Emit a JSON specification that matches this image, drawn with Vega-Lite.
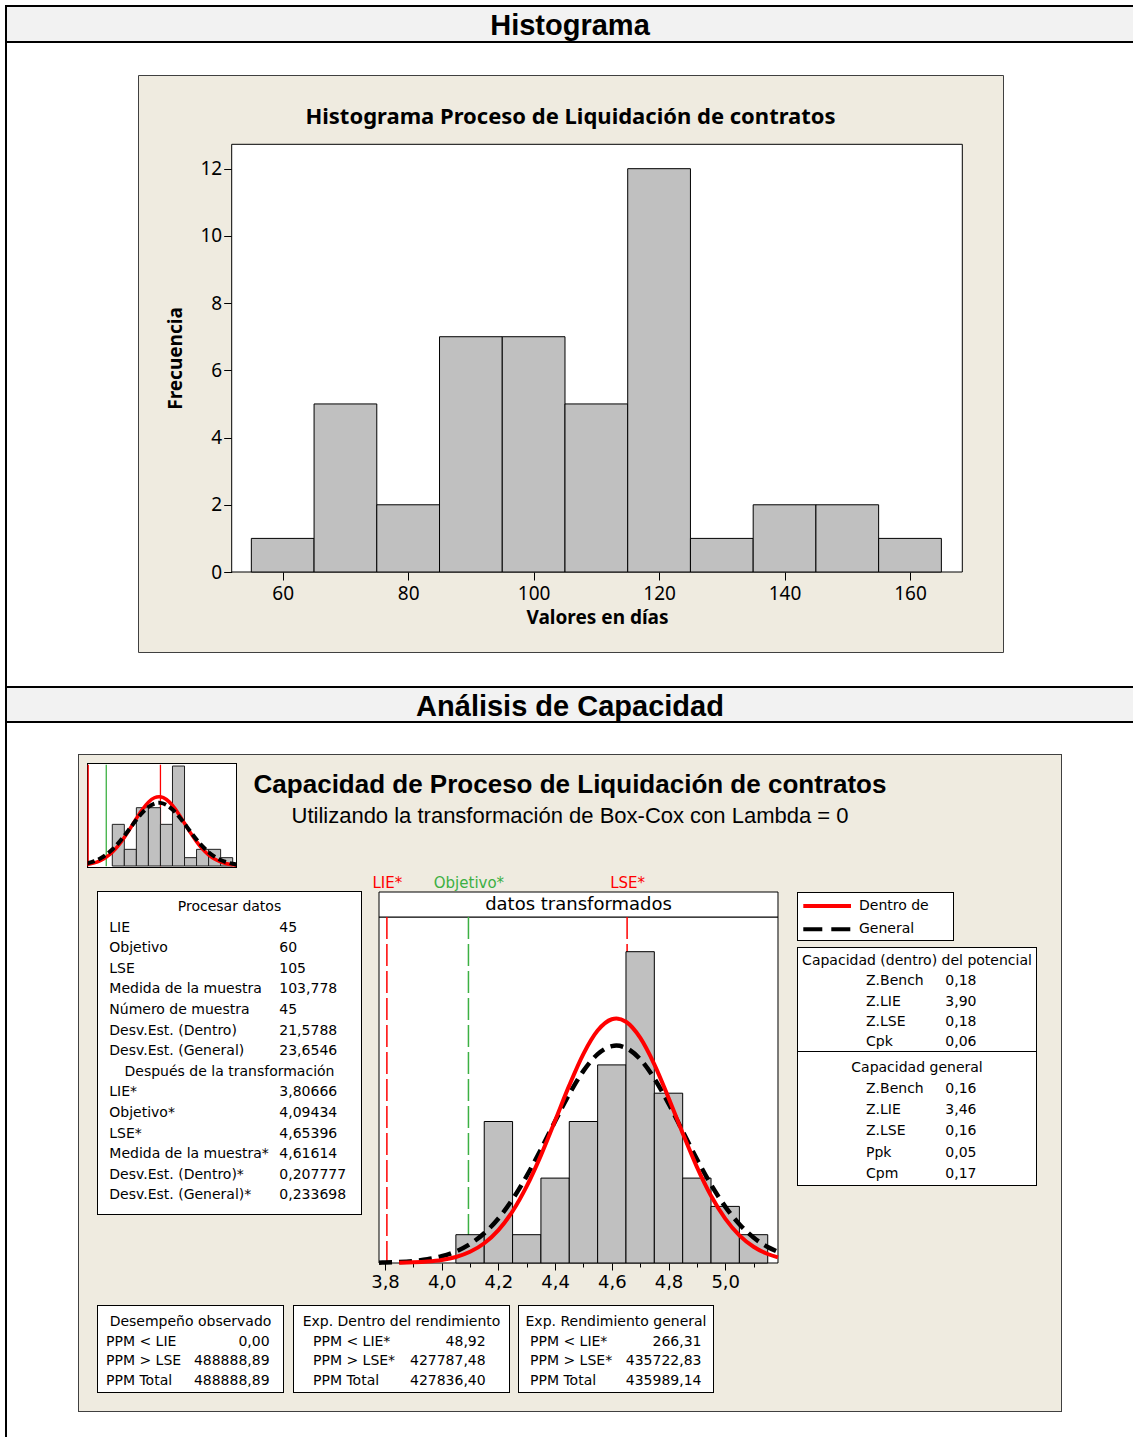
{
"$schema":"https://vega.github.io/schema/vega-lite/v6.json",
"background":"white",
"padding":{"left":5,"top":5,"right":0,"bottom":0},
"spacing":0,
"config":{"view":{"stroke":null},"axis":{"grid":false,"domainColor":"black","tickColor":"black","labelColor":"black","titleColor":"black"},"font":"DejaVu Sans"},
"datasets":{
"hist_dias":[{"inicio":55,"fin":65,"frecuencia":1},{"inicio":65,"fin":75,"frecuencia":5},{"inicio":75,"fin":85,"frecuencia":2},{"inicio":85,"fin":95,"frecuencia":7},{"inicio":95,"fin":105,"frecuencia":7},{"inicio":105,"fin":115,"frecuencia":5},{"inicio":115,"fin":125,"frecuencia":12},{"inicio":125,"fin":135,"frecuencia":1},{"inicio":135,"fin":145,"frecuencia":2},{"inicio":145,"fin":155,"frecuencia":2},{"inicio":155,"fin":165,"frecuencia":1}],
"hist_mini":[{"inicio":65,"fin":75,"frecuencia":5},{"inicio":75,"fin":85,"frecuencia":2},{"inicio":85,"fin":95,"frecuencia":7},{"inicio":95,"fin":105,"frecuencia":7},{"inicio":105,"fin":115,"frecuencia":5},{"inicio":115,"fin":125,"frecuencia":12},{"inicio":125,"fin":135,"frecuencia":1},{"inicio":135,"fin":145,"frecuencia":2},{"inicio":145,"fin":155,"frecuencia":2},{"inicio":155,"fin":165,"frecuencia":1}],
"hist_trans":[{"inicio":4.05,"fin":4.15,"frecuencia":1},{"inicio":4.15,"fin":4.25,"frecuencia":5},{"inicio":4.25,"fin":4.35,"frecuencia":1},{"inicio":4.35,"fin":4.45,"frecuencia":3},{"inicio":4.45,"fin":4.55,"frecuencia":5},{"inicio":4.55,"fin":4.65,"frecuencia":7},{"inicio":4.65,"fin":4.75,"frecuencia":11},{"inicio":4.75,"fin":4.85,"frecuencia":6},{"inicio":4.85,"fin":4.95,"frecuencia":3},{"inicio":4.95,"fin":5.05,"frecuencia":2},{"inicio":5.05,"fin":5.15,"frecuencia":1}],
"normal_dentro":[{"x":3.85,"y":0.0096},{"x":3.9,"y":0.0227},{"x":3.95,"y":0.0506},{"x":4.0,"y":0.1064},{"x":4.05,"y":0.2111},{"x":4.1,"y":0.3949},{"x":4.15,"y":0.6975},{"x":4.2,"y":1.1628},{"x":4.25,"y":1.8289},{"x":4.3,"y":2.7153},{"x":4.35,"y":3.8042},{"x":4.4,"y":5.0297},{"x":4.45,"y":6.276},{"x":4.5,"y":7.3904},{"x":4.55,"y":8.2132},{"x":4.6,"y":8.614},{"x":4.616,"y":8.64},{"x":4.65,"y":8.526},{"x":4.7,"y":7.9642},{"x":4.75,"y":7.0205},{"x":4.8,"y":5.8409},{"x":4.85,"y":4.5863},{"x":4.9,"y":3.398},{"x":4.95,"y":2.3762},{"x":5.0,"y":1.568},{"x":5.05,"y":0.9768},{"x":5.1,"y":0.574},{"x":5.15,"y":0.3184},{"x":5.186,"y":0.201}],
"normal_general":[{"x":3.779,"y":0.0126},{"x":3.8,"y":0.0173},{"x":3.85,"y":0.0356},{"x":3.9,"y":0.0702},{"x":3.95,"y":0.1322},{"x":4.0,"y":0.2377},{"x":4.05,"y":0.4085},{"x":4.1,"y":0.6702},{"x":4.15,"y":1.0509},{"x":4.2,"y":1.5739},{"x":4.25,"y":2.2514},{"x":4.3,"y":3.0768},{"x":4.35,"y":4.0166},{"x":4.4,"y":5.0087},{"x":4.45,"y":5.9665},{"x":4.5,"y":6.7895},{"x":4.55,"y":7.3803},{"x":4.6,"y":7.6636},{"x":4.616,"y":7.682},{"x":4.65,"y":7.6017},{"x":4.7,"y":7.203},{"x":4.75,"y":6.5197},{"x":4.8,"y":5.6374},{"x":4.85,"y":4.6562},{"x":4.9,"y":3.6736},{"x":4.95,"y":2.7688},{"x":5.0,"y":1.9936},{"x":5.05,"y":1.371},{"x":5.1,"y":0.9009},{"x":5.15,"y":0.5654},{"x":5.186,"y":0.393}],
"normal_dentro_dias":[{"x":44,"y":0.1793},{"x":45,"y":0.2037},{"x":50,"y":0.3727},{"x":55,"y":0.6465},{"x":60,"y":1.0626},{"x":65,"y":1.6553},{"x":70,"y":2.4436},{"x":75,"y":3.419},{"x":80,"y":4.5336},{"x":85,"y":5.6973},{"x":90,"y":6.7854},{"x":95,"y":7.6589},{"x":100,"y":8.193},{"x":103.778,"y":8.3195},{"x":105,"y":8.3062},{"x":110,"y":7.9807},{"x":115,"y":7.2673},{"x":120,"y":6.2717},{"x":125,"y":5.1295},{"x":130,"y":3.976},{"x":135,"y":2.9209},{"x":140,"y":2.0335},{"x":145,"y":1.3419},{"x":150,"y":0.839},{"x":155,"y":0.4972},{"x":160,"y":0.2793},{"x":165,"y":0.1487},{"x":168.6,"y":0.0913}],
"normal_general_dias":[{"x":44,"y":0.3115},{"x":45,"y":0.3463},{"x":50,"y":0.5726},{"x":55,"y":0.9055},{"x":60,"y":1.3691},{"x":65,"y":1.9799},{"x":70,"y":2.738},{"x":75,"y":3.6209},{"x":80,"y":4.5792},{"x":85,"y":5.5384},{"x":90,"y":6.4053},{"x":95,"y":7.0844},{"x":100,"y":7.4932},{"x":103.778,"y":7.5894},{"x":105,"y":7.5793},{"x":110,"y":7.3314},{"x":115,"y":6.7817},{"x":120,"y":5.999},{"x":125,"y":5.0749},{"x":130,"y":4.1054},{"x":135,"y":3.1762},{"x":140,"y":2.3497},{"x":145,"y":1.6625},{"x":150,"y":1.1248},{"x":155,"y":0.7277},{"x":160,"y":0.4503},{"x":165,"y":0.2665},{"x":168.6,"y":0.1777}]
},
"hconcat":[
 {"width":2,"height":1432,"data":{"values":[]},"mark":"point","view":{"fill":"black"}},
 {"spacing":0,"vconcat":[
  {"spacing":0,"bounds":"flush","vconcat":[
   {"width":1126,"height":2,"data":{"values":[]},"mark":"point","view":{"fill":"black"}},
   {"width":1126,"height":34,"view":{"fill":"#f2f2f2"},"data":{"values":[{"seccion":"Histograma"}]},"mark":{"type":"text","font":"Liberation Sans","fontSize":29,"fontWeight":"bold","baseline":"middle","dy":2},"encoding":{"text":{"field":"seccion","type":"nominal"}}},
   {"width":1126,"height":2,"data":{"values":[]},"mark":"point","view":{"fill":"black"}},
   {"width":1126,"height":30.5,"data":{"values":[]},"mark":"point"}
  ]},
  {"spacing":0,"bounds":"flush","hconcat":[
   {"width":131,"height":577,"data":{"values":[]},"mark":"point"},
   {"width":865,"height":577,"view":{"fill":"#efebe0","stroke":"#404040","strokeWidth":1},
    "resolve":{"axis":{"x":"independent","y":"independent"}},
    "layer":[
     {"data":{"values":[{"zona":"grafica"}]},"mark":{"type":"rect","fill":"white","stroke":"black","strokeWidth":1},
      "encoding":{"x":{"datum":51.87,"type":"quantitative","scale":{"domain":[36.933,174.825],"nice":false,"zero":false},"axis":null},"x2":{"datum":168.337},
       "y":{"datum":12.725,"type":"quantitative","scale":{"domain":[-2.38,14.787],"nice":false,"zero":false},"axis":null},"y2":{"datum":0}}},
     {"data":{"values":[{"titulo":"Histograma Proceso de Liquidación de contratos"}]},"mark":{"type":"text","font":"Noto Sans","fontSize":22,"fontWeight":"bold","baseline":"middle"},
      "encoding":{"x":{"datum":105.88,"type":"quantitative","scale":{"domain":[36.933,174.825],"nice":false,"zero":false},"axis":null},
       "y":{"datum":13.54,"type":"quantitative","scale":{"domain":[-2.38,14.787],"nice":false,"zero":false},"axis":null},"text":{"field":"titulo","type":"nominal"}}},
     {"data":{"name":"hist_dias"},"mark":{"type":"rect","fill":"#c0c0c0","stroke":"black","strokeWidth":1},
      "encoding":{"x":{"field":"inicio","type":"quantitative","scale":{"domain":[36.933,174.825],"nice":false,"zero":false},
        "axis":{"orient":"bottom","offset":-80,"values":[60,80,100,120,140,160],"tickSize":8,"domain":false,"labelFont":"Noto Sans","labelFontSize":19,"labelPadding":4,"labelFlush":false,"labelOverlap":false,"title":"Valores en días","titleFont":"Noto Sans","titleFontSize":19,"titleFontWeight":"bold","titlePadding":5,"titleX":459}},
       "x2":{"field":"fin"},
       "y":{"field":"frecuencia","type":"quantitative","scale":{"domain":[-2.38,14.787],"nice":false,"zero":false},
        "axis":{"orient":"left","offset":-93.7,"values":[0,2,4,6,8,10,12],"tickSize":8,"domain":false,"labelFont":"Noto Sans","labelFontSize":19,"labelPadding":2,"labelFlush":false,"labelOverlap":false,"title":"Frecuencia","titleFont":"Noto Sans","titleFontSize":19,"titleFontWeight":"bold","titlePadding":14,"titleY":283}},
       "y2":{"datum":0}}}
    ]}
  ]},
  {"spacing":0,"bounds":"flush","vconcat":[
   {"width":1126,"height":32.5,"data":{"values":[]},"mark":"point"},
   {"width":1126,"height":2,"data":{"values":[]},"mark":"point","view":{"fill":"black"}},
   {"width":1126,"height":33,"view":{"fill":"#f2f2f2"},"data":{"values":[{"seccion":"Análisis de Capacidad"}]},"mark":{"type":"text","font":"Liberation Sans","fontSize":29,"fontWeight":"bold","baseline":"middle","dy":2},"encoding":{"text":{"field":"seccion","type":"nominal"}}},
   {"width":1126,"height":2,"data":{"values":[]},"mark":"point","view":{"fill":"black"}},
   {"width":1126,"height":31,"data":{"values":[]},"mark":"point"}
  ]},
  {"spacing":0,"hconcat":[
   {"width":71,"height":658,"data":{"values":[]},"mark":"point"},
   {"spacing":0,"hconcat":[
    {"width":1,"height":658,"data":{"values":[]},"mark":"point","view":{"fill":"#404040"}},
    {"spacing":0,"resolve":{"scale":{"color":"independent","strokeDash":"independent"}},"vconcat":[
     {"width":982,"height":1,"data":{"values":[]},"mark":"point","view":{"fill":"#404040"}},
     {"spacing":0,"hconcat":[
      {"width":8,"height":117,"data":{"values":[]},"mark":"point","view":{"fill":"#efebe0"}},
      {"spacing":0,"vconcat":[
       {"width":150,"height":8,"data":{"values":[]},"mark":"point","view":{"fill":"#efebe0"}},
       {"spacing":0,"vconcat":[
        {"width":150,"height":1,"data":{"values":[]},"mark":"point","view":{"fill":"black"}},
        {"spacing":0,"bounds":"flush","hconcat":[
         {"width":1,"height":103,"data":{"values":[]},"mark":"point","view":{"fill":"black"}},
         {"width":148,"height":103,"view":{"fill":"white"},
          "layer":[
           {"data":{"values":[{"limite":"LIE","valor":45},{"limite":"Objetivo","valor":60},{"limite":"LSE","valor":105}]},"mark":{"type":"rule","strokeWidth":1.3},
            "encoding":{"x":{"field":"valor","type":"quantitative","scale":{"domain":[44.83,167.76],"nice":false,"zero":false},"axis":null},
             "y":{"datum":-0.04,"type":"quantitative","scale":{"domain":[-0.12,12.245],"nice":false,"zero":false},"axis":null},"y2":{"datum":12.16},
             "color":{"field":"limite","type":"nominal","scale":{"domain":["LIE","Objetivo","LSE"],"range":["#ff0000","#3cb043","#ff0000"]},"legend":null}}},
           {"data":{"name":"hist_mini"},"mark":{"type":"rect","fill":"#c0c0c0","stroke":"#202020","strokeWidth":1},
            "encoding":{"x":{"field":"inicio","type":"quantitative","scale":{"domain":[44.83,167.76],"nice":false,"zero":false},"axis":null},"x2":{"field":"fin"},
             "y":{"field":"frecuencia","type":"quantitative","scale":{"domain":[-0.12,12.245],"nice":false,"zero":false},"axis":null},"y2":{"datum":0}}},
           {"data":{"name":"normal_dentro_dias"},"mark":{"type":"line","color":"#ff0000","strokeWidth":3.5,"interpolate":"monotone","clip":true},
            "encoding":{"x":{"field":"x","type":"quantitative","scale":{"domain":[44.83,167.76],"nice":false,"zero":false},"axis":null},
             "y":{"field":"y","type":"quantitative","scale":{"domain":[-0.12,12.245],"nice":false,"zero":false},"axis":null}}},
           {"data":{"name":"normal_general_dias"},"mark":{"type":"line","color":"black","strokeWidth":4,"strokeDash":[8,4],"interpolate":"monotone","clip":true},
            "encoding":{"x":{"field":"x","type":"quantitative","scale":{"domain":[44.83,167.76],"nice":false,"zero":false},"axis":null},
             "y":{"field":"y","type":"quantitative","scale":{"domain":[-0.12,12.245],"nice":false,"zero":false},"axis":null}}}
          ]},
         {"width":1,"height":103,"data":{"values":[]},"mark":"point","view":{"fill":"black"}}
        ]},
        {"width":150,"height":1,"data":{"values":[]},"mark":"point","view":{"fill":"black"}}
       ]},
       {"width":150,"height":4,"data":{"values":[]},"mark":"point","view":{"fill":"#efebe0"}}
      ]},
      {"spacing":0,"bounds":"flush","vconcat":[
       {"width":666,"height":60,"view":{"fill":"#efebe0"},"data":{"values":[{"titulo":"Capacidad de Proceso de Liquidación de contratos"}]},"mark":{"type":"text","font":"Liberation Sans","fontSize":26,"fontWeight":"bold","baseline":"middle"},"encoding":{"text":{"field":"titulo","type":"nominal"}}},
       {"width":666,"height":16,"view":{"fill":"#efebe0"},"data":{"values":[{"subtitulo":"Utilizando la transformación de Box-Cox con Lambda = 0"}]},"mark":{"type":"text","font":"Liberation Sans","fontSize":22,"baseline":"alphabetic"},"encoding":{"text":{"field":"subtitulo","type":"nominal"}}},
       {"width":666,"height":41,"data":{"values":[]},"mark":"point","view":{"fill":"#efebe0"}}
      ]},
      {"width":158,"height":117,"data":{"values":[]},"mark":"point","view":{"fill":"#efebe0"}}
     ]},
     {"spacing":0,"resolve":{"scale":{"color":"independent","strokeDash":"independent"}},"hconcat":[
      {"width":18,"height":433,"data":{"values":[]},"mark":"point","view":{"fill":"#efebe0"}},
      {"spacing":0,"vconcat":[
       {"width":265,"height":19,"data":{"values":[]},"mark":"point","view":{"fill":"#efebe0"}},
       {"spacing":0,"vconcat":[
        {"width":265,"height":1,"data":{"values":[]},"mark":"point","view":{"fill":"black"}},
        {"spacing":0,"bounds":"flush","hconcat":[
         {"width":1,"height":322,"data":{"values":[]},"mark":"point","view":{"fill":"black"}},
         {"width":263,"height":322,"view":{"fill":"white"},
          "data":{"values":[{"fila":0,"titulo":"Procesar datos"},{"fila":1,"etiqueta":"LIE","valor":"45"},{"fila":2,"etiqueta":"Objetivo","valor":"60"},{"fila":3,"etiqueta":"LSE","valor":"105"},{"fila":4,"etiqueta":"Medida de la muestra","valor":"103,778"},{"fila":5,"etiqueta":"Número de muestra","valor":"45"},{"fila":6,"etiqueta":"Desv.Est. (Dentro)","valor":"21,5788"},{"fila":7,"etiqueta":"Desv.Est. (General)","valor":"23,6546"},{"fila":8,"titulo":"Después de la transformación"},{"fila":9,"etiqueta":"LIE*","valor":"3,80666"},{"fila":10,"etiqueta":"Objetivo*","valor":"4,09434"},{"fila":11,"etiqueta":"LSE*","valor":"4,65396"},{"fila":12,"etiqueta":"Medida de la muestra*","valor":"4,61614"},{"fila":13,"etiqueta":"Desv.Est. (Dentro)*","valor":"0,207777"},{"fila":14,"etiqueta":"Desv.Est. (General)*","valor":"0,233698"}]},
          "encoding":{"y":{"field":"fila","type":"ordinal","scale":{"type":"point","domain":[0,1,2,3,4,5,6,7,8,9,10,11,12,13,14],"padding":0.819,"align":0.445},"axis":null}},
          "layer":[
           {"transform":[{"filter":"isValid(datum.titulo)"}],"mark":{"type":"text","font":"DejaVu Sans","fontSize":14},"encoding":{"text":{"field":"titulo","type":"nominal"}}},
           {"transform":[{"filter":"isValid(datum.etiqueta)"}],"mark":{"type":"text","font":"DejaVu Sans","fontSize":14,"align":"left"},"encoding":{"x":{"datum":"etiqueta","type":"nominal","scale":{"type":"point","domain":["etiqueta","valor"],"padding":0.2735,"align":0.1215},"axis":null},"text":{"field":"etiqueta","type":"nominal"}}},
           {"transform":[{"filter":"isValid(datum.valor)"}],"mark":{"type":"text","font":"DejaVu Sans","fontSize":14,"align":"left"},"encoding":{"x":{"datum":"valor","type":"nominal","scale":{"type":"point","domain":["etiqueta","valor"],"padding":0.2735,"align":0.1215},"axis":null},"text":{"field":"valor","type":"nominal"}}}
          ]},
         {"width":1,"height":322,"data":{"values":[]},"mark":"point","view":{"fill":"black"}}
        ]},
        {"width":265,"height":1,"data":{"values":[]},"mark":"point","view":{"fill":"black"}}
       ]},
       {"width":265,"height":90,"data":{"values":[]},"mark":"point","view":{"fill":"#efebe0"}}
      ]},
      {"width":435,"height":433,"view":{"fill":"#efebe0"},
       "resolve":{"axis":{"x":"independent"}},
       "layer":[
        {"data":{"values":[{"zona":"grafica"}]},"mark":{"type":"rect","fill":"white","stroke":"black","strokeWidth":1},
         "encoding":{"x":{"datum":3.77884,"type":"quantitative","scale":{"domain":[3.71887,5.25326],"nice":false,"zero":false},"axis":null},"x2":{"datum":5.18624},
          "y":{"datum":12.2261,"type":"quantitative","scale":{"domain":[-1.4841,13.8163],"nice":false,"zero":false},"axis":null},"y2":{"datum":0}}},
        {"data":{"values":[{"zona":"encabezado"}]},"mark":{"type":"rect","fill":"white","stroke":"black","strokeWidth":1},
         "encoding":{"x":{"datum":3.77884,"type":"quantitative","scale":{"domain":[3.71887,5.25326],"nice":false,"zero":false},"axis":null},"x2":{"datum":5.18624},
          "y":{"datum":13.1095,"type":"quantitative","scale":{"domain":[-1.4841,13.8163],"nice":false,"zero":false},"axis":null},"y2":{"datum":12.2261}}},
        {"data":{"values":[{"encabezado":"datos transformados"}]},"mark":{"type":"text","font":"DejaVu Sans","fontSize":18},
         "encoding":{"x":{"datum":4.48254,"type":"quantitative","scale":{"domain":[3.71887,5.25326],"nice":false,"zero":false},"axis":null},
          "y":{"datum":12.6678,"type":"quantitative","scale":{"domain":[-1.4841,13.8163],"nice":false,"zero":false},"axis":null},"text":{"field":"encabezado","type":"nominal"}}},
        {"data":{"values":[{"limite":"LIE*","valor":3.80666},{"limite":"Objetivo*","valor":4.09434},{"limite":"LSE*","valor":4.65396}]},"mark":{"type":"rule","strokeDash":[22,5],"strokeWidth":1.5},
         "encoding":{"x":{"field":"valor","type":"quantitative","scale":{"domain":[3.71887,5.25326],"nice":false,"zero":false},
           "axis":{"orient":"top","offset":-45,"values":[3.80666,4.09434,4.65396],"labelExpr":"datum.value < 3.9 ? 'LIE*' : (datum.value < 4.5 ? 'Objetivo*' : 'LSE*')","ticks":false,"tickSize":0,"domain":false,"labelPadding":27,"labelFont":"DejaVu Sans","labelFontSize":15,"labelColor":{"condition":{"test":"datum.value > 4 && datum.value < 4.5","value":"#3cb043"},"value":"#ff0000"},"labelFlush":false,"labelOverlap":false,"labelBound":false,"title":null}},
          "y":{"datum":12.2261,"type":"quantitative","scale":{"domain":[-1.4841,13.8163],"nice":false,"zero":false},"axis":null},"y2":{"datum":0},
          "color":{"field":"limite","type":"nominal","scale":{"domain":["LIE*","Objetivo*","LSE*"],"range":["#ff0000","#3cb043","#ff0000"]},"legend":null}}},
        {"data":{"name":"hist_trans"},"mark":{"type":"rect","fill":"#c0c0c0","stroke":"black","strokeWidth":1},
         "encoding":{"x":{"field":"inicio","type":"quantitative","scale":{"domain":[3.71887,5.25326],"nice":false,"zero":false},
           "axis":{"orient":"bottom","offset":-42,"values":[3.8,4.0,4.2,4.4,4.6,4.8,5.0],"labelExpr":"replace(format(datum.value, '.1f'), '.', ',')","tickSize":7,"domain":false,"labelFont":"DejaVu Sans","labelFontSize":18,"labelPadding":3,"labelFlush":false,"labelOverlap":false,"title":null}},
          "x2":{"field":"fin"},
          "y":{"field":"frecuencia","type":"quantitative","scale":{"domain":[-1.4841,13.8163],"nice":false,"zero":false},"axis":null},"y2":{"datum":0}}},
        {"data":{"name":"normal_general"},"mark":{"type":"line","color":"black","strokeWidth":4.5,"strokeDash":[13,7],"interpolate":"monotone","clip":true},
         "encoding":{"x":{"field":"x","type":"quantitative","scale":{"domain":[3.71887,5.25326],"nice":false,"zero":false},
           "axis":{"orient":"bottom","offset":-42,"values":[3.9,4.1,4.3,4.5,4.7,4.9,5.1],"labels":false,"tickSize":4,"domain":false,"title":null}},
          "y":{"field":"y","type":"quantitative","scale":{"domain":[-1.4841,13.8163],"nice":false,"zero":false},"axis":null}}},
        {"data":{"name":"normal_dentro"},"mark":{"type":"line","color":"#ff0000","strokeWidth":4,"interpolate":"monotone","clip":true},
         "encoding":{"x":{"field":"x","type":"quantitative","scale":{"domain":[3.71887,5.25326],"nice":false,"zero":false},"axis":null},
          "y":{"field":"y","type":"quantitative","scale":{"domain":[-1.4841,13.8163],"nice":false,"zero":false},"axis":null}}}
       ]},
      {"spacing":0,"vconcat":[
       {"width":240,"height":20,"data":{"values":[]},"mark":"point","view":{"fill":"#efebe0"}},
       {"spacing":0,"hconcat":[
        {"spacing":0,"vconcat":[
         {"width":157,"height":1,"data":{"values":[]},"mark":"point","view":{"fill":"black"}},
         {"spacing":0,"bounds":"flush","hconcat":[
          {"width":1,"height":47,"data":{"values":[]},"mark":"point","view":{"fill":"black"}},
          {"width":155,"height":47,"view":{"fill":"white"},
           "data":{"values":[{"serie":"Dentro de"},{"serie":"General"}]},
           "encoding":{"y":{"field":"serie","type":"nominal","scale":{"type":"point","domain":["Dentro de","General"],"padding":0.5086,"align":0.5485},"axis":null}},
           "layer":[
            {"mark":{"type":"rule","strokeWidth":4},
             "encoding":{"x":{"datum":0,"type":"quantitative","scale":{"domain":[-0.1111,3.1384],"nice":false,"zero":false},"axis":null},"x2":{"datum":1},
              "color":{"field":"serie","type":"nominal","scale":{"domain":["Dentro de","General"],"range":["#ff0000","#000000"]},"legend":null},
              "strokeDash":{"field":"serie","type":"nominal","scale":{"domain":["Dentro de","General"],"range":[[1,0],[19,9]]},"legend":null}}},
            {"mark":{"type":"text","font":"DejaVu Sans","fontSize":14,"align":"left"},
             "encoding":{"x":{"datum":1.1677,"type":"quantitative","scale":{"domain":[-0.1111,3.1384],"nice":false,"zero":false},"axis":null},"text":{"field":"serie","type":"nominal"}}}
           ]},
          {"width":1,"height":47,"data":{"values":[]},"mark":"point","view":{"fill":"black"}}
         ]},
         {"width":157,"height":1,"data":{"values":[]},"mark":"point","view":{"fill":"black"}}
        ]},
        {"width":83,"height":49,"data":{"values":[]},"mark":"point","view":{"fill":"#efebe0"}}
       ]},
       {"width":240,"height":6,"data":{"values":[]},"mark":"point","view":{"fill":"#efebe0"}},
       {"spacing":0,"vconcat":[
        {"width":240,"height":1,"data":{"values":[]},"mark":"point","view":{"fill":"black"}},
        {"spacing":0,"bounds":"flush","hconcat":[
         {"width":1,"height":103,"data":{"values":[]},"mark":"point","view":{"fill":"black"}},
         {"width":238,"height":103,"view":{"fill":"white"},
          "data":{"values":[{"fila":0,"titulo":"Capacidad (dentro) del potencial"},{"fila":1,"etiqueta":"Z.Bench","valor":"0,18"},{"fila":2,"etiqueta":"Z.LIE","valor":"3,90"},{"fila":3,"etiqueta":"Z.LSE","valor":"0,18"},{"fila":4,"etiqueta":"Cpk","valor":"0,06"}]},
          "encoding":{"y":{"field":"fila","type":"ordinal","scale":{"type":"point","domain":[0,1,2,3,4],"padding":0.533,"align":0.599},"axis":null}},
          "layer":[
           {"transform":[{"filter":"isValid(datum.titulo)"}],"mark":{"type":"text","font":"DejaVu Sans","fontSize":14},"encoding":{"text":{"field":"titulo","type":"nominal"}}},
           {"transform":[{"filter":"isValid(datum.etiqueta)"}],"mark":{"type":"text","font":"DejaVu Sans","fontSize":14,"align":"left"},"encoding":{"x":{"datum":"etiqueta","type":"nominal","scale":{"type":"point","domain":["etiqueta","valor"],"padding":1.16,"align":0.4287},"axis":null},"text":{"field":"etiqueta","type":"nominal"}}},
           {"transform":[{"filter":"isValid(datum.valor)"}],"mark":{"type":"text","font":"DejaVu Sans","fontSize":14,"align":"left"},"encoding":{"x":{"datum":"valor","type":"nominal","scale":{"type":"point","domain":["etiqueta","valor"],"padding":1.16,"align":0.4287},"axis":null},"text":{"field":"valor","type":"nominal"}}}
          ]},
         {"width":1,"height":103,"data":{"values":[]},"mark":"point","view":{"fill":"black"}}
        ]},
        {"width":240,"height":1,"data":{"values":[]},"mark":"point","view":{"fill":"black"}},
        {"spacing":0,"bounds":"flush","hconcat":[
         {"width":1,"height":133,"data":{"values":[]},"mark":"point","view":{"fill":"black"}},
         {"width":238,"height":133,"view":{"fill":"white"},
          "data":{"values":[{"fila":0,"titulo":"Capacidad general"},{"fila":1,"etiqueta":"Z.Bench","valor":"0,16"},{"fila":2,"etiqueta":"Z.LIE","valor":"3,46"},{"fila":3,"etiqueta":"Z.LSE","valor":"0,16"},{"fila":4,"etiqueta":"Ppk","valor":"0,05"},{"fila":5,"etiqueta":"Cpm","valor":"0,17"}]},
          "encoding":{"y":{"field":"fila","type":"ordinal","scale":{"type":"point","domain":[0,1,2,3,4,5],"padding":0.6457,"align":0.586},"axis":null}},
          "layer":[
           {"transform":[{"filter":"isValid(datum.titulo)"}],"mark":{"type":"text","font":"DejaVu Sans","fontSize":14},"encoding":{"text":{"field":"titulo","type":"nominal"}}},
           {"transform":[{"filter":"isValid(datum.etiqueta)"}],"mark":{"type":"text","font":"DejaVu Sans","fontSize":14,"align":"left"},"encoding":{"x":{"datum":"etiqueta","type":"nominal","scale":{"type":"point","domain":["etiqueta","valor"],"padding":1.16,"align":0.4287},"axis":null},"text":{"field":"etiqueta","type":"nominal"}}},
           {"transform":[{"filter":"isValid(datum.valor)"}],"mark":{"type":"text","font":"DejaVu Sans","fontSize":14,"align":"left"},"encoding":{"x":{"datum":"valor","type":"nominal","scale":{"type":"point","domain":["etiqueta","valor"],"padding":1.16,"align":0.4287},"axis":null},"text":{"field":"valor","type":"nominal"}}}
          ]},
         {"width":1,"height":133,"data":{"values":[]},"mark":"point","view":{"fill":"black"}}
        ]},
        {"width":240,"height":1,"data":{"values":[]},"mark":"point","view":{"fill":"black"}}
       ]},
       {"width":240,"height":119,"data":{"values":[]},"mark":"point","view":{"fill":"#efebe0"}}
      ]},
      {"width":24,"height":433,"data":{"values":[]},"mark":"point","view":{"fill":"#efebe0"}}
     ]},
     {"spacing":0,"hconcat":[
      {"width":18,"height":88,"data":{"values":[]},"mark":"point","view":{"fill":"#efebe0"}},
      {"spacing":0,"vconcat":[
       {"width":187,"height":1,"data":{"values":[]},"mark":"point","view":{"fill":"black"}},
       {"spacing":0,"bounds":"flush","hconcat":[
        {"width":1,"height":86,"data":{"values":[]},"mark":"point","view":{"fill":"black"}},
        {"width":185,"height":86,"view":{"fill":"white"},
         "data":{"values":[{"fila":0,"titulo":"Desempeño observado"},{"fila":1,"etiqueta":"PPM < LIE","valor":"0,00"},{"fila":2,"etiqueta":"PPM > LSE","valor":"488888,89"},{"fila":3,"etiqueta":"PPM Total","valor":"488888,89"}]},
         "encoding":{"y":{"field":"fila","type":"ordinal","scale":{"type":"point","domain":[0,1,2,3],"padding":0.686,"align":0.593},"axis":null}},
         "layer":[
          {"transform":[{"filter":"isValid(datum.titulo)"}],"mark":{"type":"text","font":"DejaVu Sans","fontSize":14},"encoding":{"text":{"field":"titulo","type":"nominal"}}},
          {"transform":[{"filter":"isValid(datum.etiqueta)"}],"mark":{"type":"text","font":"DejaVu Sans","fontSize":14,"align":"left"},"encoding":{"x":{"datum":"etiqueta","type":"nominal","scale":{"type":"point","domain":["etiqueta","valor"],"padding":0.0654,"align":0.374},"axis":null},"text":{"field":"etiqueta","type":"nominal"}}},
          {"transform":[{"filter":"isValid(datum.valor)"}],"mark":{"type":"text","font":"DejaVu Sans","fontSize":14,"align":"right"},"encoding":{"x":{"datum":"valor","type":"nominal","scale":{"type":"point","domain":["etiqueta","valor"],"padding":0.0654,"align":0.374},"axis":null},"text":{"field":"valor","type":"nominal"}}}
         ]},
        {"width":1,"height":86,"data":{"values":[]},"mark":"point","view":{"fill":"black"}}
       ]},
       {"width":187,"height":1,"data":{"values":[]},"mark":"point","view":{"fill":"black"}}
      ]},
      {"width":9,"height":88,"data":{"values":[]},"mark":"point","view":{"fill":"#efebe0"}},
      {"spacing":0,"vconcat":[
       {"width":217,"height":1,"data":{"values":[]},"mark":"point","view":{"fill":"black"}},
       {"spacing":0,"bounds":"flush","hconcat":[
        {"width":1,"height":86,"data":{"values":[]},"mark":"point","view":{"fill":"black"}},
        {"width":215,"height":86,"view":{"fill":"white"},
         "data":{"values":[{"fila":0,"titulo":"Exp. Dentro del rendimiento"},{"fila":1,"etiqueta":"PPM < LIE*","valor":"48,92"},{"fila":2,"etiqueta":"PPM > LSE*","valor":"427787,48"},{"fila":3,"etiqueta":"PPM Total","valor":"427836,40"}]},
         "encoding":{"y":{"field":"fila","type":"ordinal","scale":{"type":"point","domain":[0,1,2,3],"padding":0.686,"align":0.593},"axis":null}},
         "layer":[
          {"transform":[{"filter":"isValid(datum.titulo)"}],"mark":{"type":"text","font":"DejaVu Sans","fontSize":14},"encoding":{"text":{"field":"titulo","type":"nominal"}}},
          {"transform":[{"filter":"isValid(datum.etiqueta)"}],"mark":{"type":"text","font":"DejaVu Sans","fontSize":14,"align":"left"},"encoding":{"x":{"datum":"etiqueta","type":"nominal","scale":{"type":"point","domain":["etiqueta","valor"],"padding":0.1225,"align":0.449},"axis":null},"text":{"field":"etiqueta","type":"nominal"}}},
          {"transform":[{"filter":"isValid(datum.valor)"}],"mark":{"type":"text","font":"DejaVu Sans","fontSize":14,"align":"right"},"encoding":{"x":{"datum":"valor","type":"nominal","scale":{"type":"point","domain":["etiqueta","valor"],"padding":0.1225,"align":0.449},"axis":null},"text":{"field":"valor","type":"nominal"}}}
         ]},
        {"width":1,"height":86,"data":{"values":[]},"mark":"point","view":{"fill":"black"}}
       ]},
       {"width":217,"height":1,"data":{"values":[]},"mark":"point","view":{"fill":"black"}}
      ]},
      {"width":8,"height":88,"data":{"values":[]},"mark":"point","view":{"fill":"#efebe0"}},
      {"spacing":0,"vconcat":[
       {"width":196,"height":1,"data":{"values":[]},"mark":"point","view":{"fill":"black"}},
       {"spacing":0,"bounds":"flush","hconcat":[
        {"width":1,"height":86,"data":{"values":[]},"mark":"point","view":{"fill":"black"}},
        {"width":194,"height":86,"view":{"fill":"white"},
         "data":{"values":[{"fila":0,"titulo":"Exp. Rendimiento general"},{"fila":1,"etiqueta":"PPM < LIE*","valor":"266,31"},{"fila":2,"etiqueta":"PPM > LSE*","valor":"435722,83"},{"fila":3,"etiqueta":"PPM Total","valor":"435989,14"}]},
         "encoding":{"y":{"field":"fila","type":"ordinal","scale":{"type":"point","domain":[0,1,2,3],"padding":0.686,"align":0.593},"axis":null}},
         "layer":[
          {"transform":[{"filter":"isValid(datum.titulo)"}],"mark":{"type":"text","font":"DejaVu Sans","fontSize":14},"encoding":{"text":{"field":"titulo","type":"nominal"}}},
          {"transform":[{"filter":"isValid(datum.etiqueta)"}],"mark":{"type":"text","font":"DejaVu Sans","fontSize":14,"align":"left"},"encoding":{"x":{"datum":"etiqueta","type":"nominal","scale":{"type":"point","domain":["etiqueta","valor"],"padding":0.0656,"align":0.489},"axis":null},"text":{"field":"etiqueta","type":"nominal"}}},
          {"transform":[{"filter":"isValid(datum.valor)"}],"mark":{"type":"text","font":"DejaVu Sans","fontSize":14,"align":"right"},"encoding":{"x":{"datum":"valor","type":"nominal","scale":{"type":"point","domain":["etiqueta","valor"],"padding":0.0656,"align":0.489},"axis":null},"text":{"field":"valor","type":"nominal"}}}
         ]},
        {"width":1,"height":86,"data":{"values":[]},"mark":"point","view":{"fill":"black"}}
       ]},
       {"width":196,"height":1,"data":{"values":[]},"mark":"point","view":{"fill":"black"}}
      ]},
      {"width":347,"height":88,"data":{"values":[]},"mark":"point","view":{"fill":"#efebe0"}}
     ]},
     {"width":982,"height":18,"data":{"values":[]},"mark":"point","view":{"fill":"#efebe0"}},
     {"width":982,"height":1,"data":{"values":[]},"mark":"point","view":{"fill":"#404040"}}
    ]},
    {"width":1,"height":658,"data":{"values":[]},"mark":"point","view":{"fill":"#404040"}}
   ]}
  ]},
  {"width":1126,"height":27,"data":{"values":[]},"mark":"point"}
 ]}
]
}
